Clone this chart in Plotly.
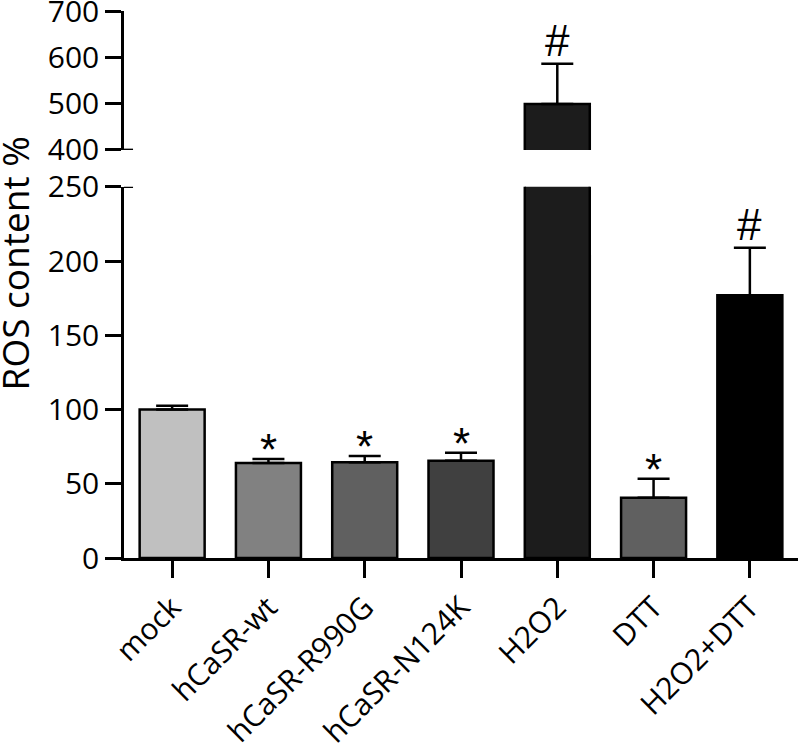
import plotly.graph_objects as go

categories = ["mock", "hCaSR-wt", "hCaSR-R990G", "hCaSR-N124K", "H2O2", "DTT", "H2O2+DTT"]
values = [100, 64, 64.5, 65.5, 499, 40.5, 177]
errors = [2.5, 2.7, 4.2, 5.4, 87, 12.8, 32]
symbols = ["", "*", "*", "*", "#", "*", "#"]
bar_colors = ["#c0c0c0", "#818181", "#606060", "#404040", "#1c1c1c", "#606060", "#000000"]

lower_ticks = [0, 50, 100, 150, 200, 250]
upper_ticks = [400, 500, 600, 700]
lower_range = [0, 250]
upper_range = [400, 700]

TICK_FONT = "Open Sans"
LW = 2.5

fig = go.Figure()
for yax in ["y", "y2"]:
    fig.add_trace(go.Bar(
        x=categories, y=values, yaxis=yax, xaxis="x",
        width=0.675,
        marker=dict(color=bar_colors, line=dict(color="black", width=LW)),
        error_y=dict(type="data", symmetric=False, array=errors,
                     arrayminus=[0] * len(errors), color="black",
                     thickness=LW, width=16),
        showlegend=False, hoverinfo="skip",
    ))

annotations = []
for cat, v, e, s in zip(categories, values, errors, symbols):
    if not s:
        continue
    top = v + e
    yref = "y2" if top > lower_range[1] else "y"
    annotations.append(dict(
        x=cat, y=top, xref="x", yref=yref, text=s, showarrow=False,
        yanchor="bottom", yshift=(-3 if s == "#" else -17),
        font=dict(family="Liberation Sans", size=44, color="black"),
    ))

annotations.append(dict(
    x=-0.163, y=0.5388, xref="paper", yref="paper", text="ROS content %",
    textangle=-90, showarrow=False, xanchor="center", yanchor="middle",
    font=dict(family=TICK_FONT, size=37, color="black"),
))

# axis break marks
shapes = [
    dict(type="line", xref="paper", x0=0, x1=0.0134, yref="y2", y0=upper_range[0], y1=upper_range[0],
         line=dict(color="black", width=LW)),
    dict(type="line", xref="paper", x0=0, x1=0.0134, yref="y", y0=lower_range[1], y1=lower_range[1],
         line=dict(color="black", width=LW)),
]

axis_common = dict(showline=True, linecolor="black", linewidth=LW, ticks="outside",
                   tickcolor="black", tickwidth=LW, showgrid=False, zeroline=False,
                   automargin=False, ticklabeloverflow="allow",
                   tickfont=dict(family=TICK_FONT, size=30, color="black"))

fig.update_layout(
    width=800, height=750,
    margin=dict(l=124, r=2, t=11, b=191.5, pad=0, autoexpand=False),
    plot_bgcolor="white", paper_bgcolor="white",
    xaxis=dict(range=[-0.5, 6.5], anchor="y", ticklen=17, tickangle=-45,
               **axis_common),
    yaxis=dict(domain=[0, 0.6785], range=lower_range, tickvals=lower_ticks,
               ticklen=16, anchor="x", **axis_common),
    yaxis2=dict(domain=[0.7461, 1], range=upper_range, tickvals=upper_ticks,
                ticklen=16, anchor="x", **axis_common),
    annotations=annotations,
    shapes=shapes,
)

fig.write_html("out.html", config={"displayModeBar": False},
               post_script="document.body.style.margin='0px';")
